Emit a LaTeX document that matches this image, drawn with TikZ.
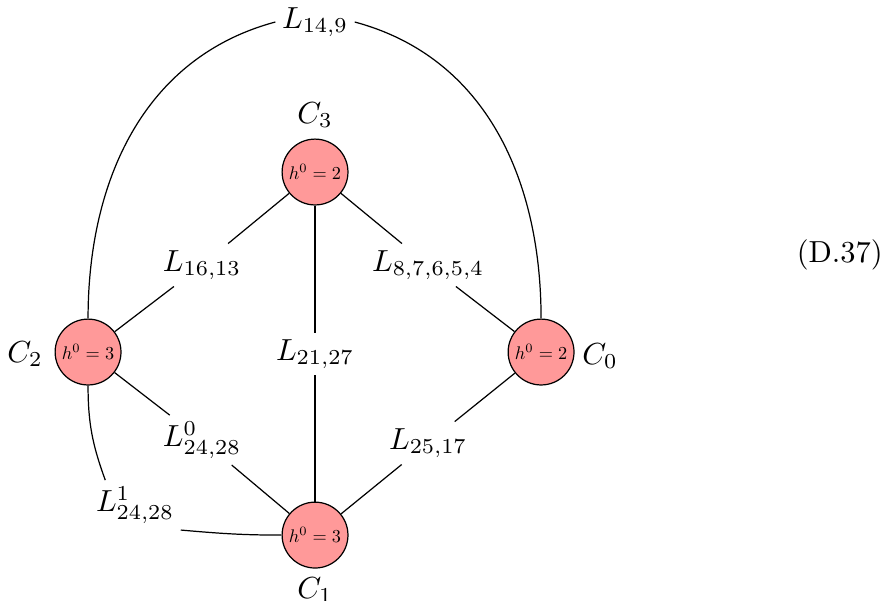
\documentclass[tikz,border=0pt]{standalone}
\usepackage{graphicx}
\usetikzlibrary{positioning}
\newcommand{\hnull}[1]{\scalebox{0.6}{$h^0=#1$}}

\begin{document}
\begin{tikzpicture}[
		curve/.style={circle,draw,fill=red!40,minimum size=0.76cm,inner sep=0pt},
		lab/.style={inner sep=2pt}]
		\useasboundingbox (0,0) rectangle (10.2,6.924);
		% components
		\node[curve] (C3) at (3.635,4.939) {\hnull{2}};
		\node[curve] (C2) at (1.016,2.862) {\hnull{3}};
		\node[curve] (C0) at (6.243,2.862) {\hnull{2}};
		\node[curve] (C1) at (3.635,0.750) {\hnull{3}};
		\node[] (n3) at (3.635,5.597) {$C_3$};
		\node[] (n2) at (0.289,2.839) {$C_2$};
		\node[] (n0) at (6.924,2.816) {$C_0$};
		\node[] (n1) at (3.635,0.115) {$C_1$};
		% line bundles
		\node[lab] (L149) at (3.635,6.670) {$L_{14,9}$};
		\node[lab] (L1613) at (2.331,3.866) {$L_{16,13}$};
		\node[lab] (L87654) at (4.939,3.866) {$L_{8,7,6,5,4}$};
		\node[lab] (L2127) at (3.635,2.839) {$L_{21,27}$};
		\node[lab] (L0) at (2.331,1.846) {$L^0_{24,28}$};
		\node[lab] (L2517) at (4.939,1.812) {$L_{25,17}$};
		\node[lab] (L1) at (1.558,1.096) {$L^1_{24,28}$};
		\draw[-] (C3) -- (L1613) -- (C2);
		\draw[-] (C3) -- (L87654) -- (C0);
		\draw[-] (C3) -- (L2127) -- (C1);
		\draw[-] (C2) -- (L0) -- (C1);
		\draw[-] (C0) -- (L2517) -- (C1);
		\draw[-] (C2.north) to[out=90,in=195] (L149.west);
		\draw[-] (L149.east) to[out=-15,in=90] (C0.north);
		\draw[-] (C2.south) to[out=-90,in=110] (L1.140);
		\draw[-] (L1.south east) to[out=-5,in=180] (C1.west);
		\node[] (eq) at (9.69,3.98) {(D.37)};
\end{tikzpicture}
\end{document}
